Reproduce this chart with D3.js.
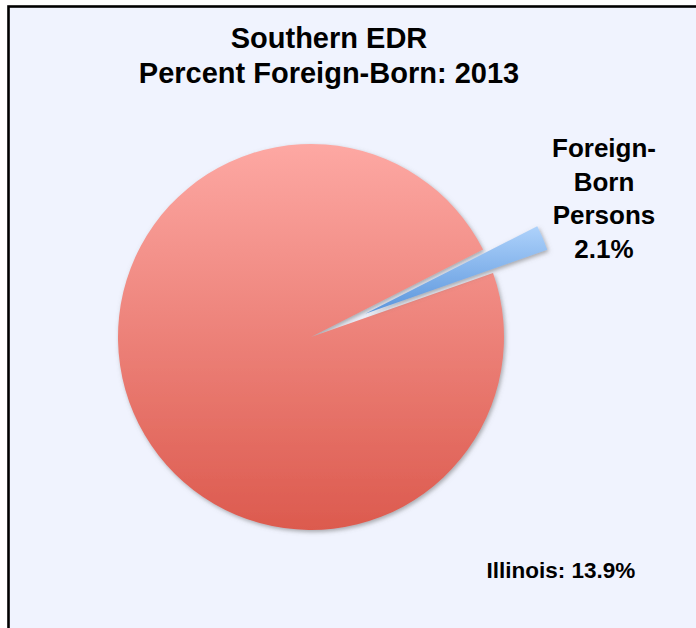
<!DOCTYPE html>
<html>
<head>
<meta charset="utf-8">
<script src="https://cdn.jsdelivr.net/npm/d3@7"></script>
<style>
  html, body { margin: 0; padding: 0; background: #fff; }
  svg { display: block; }
  text { font-family: "Liberation Sans", Arial, sans-serif; font-weight: bold; fill: #000; }
</style>
</head>
<body>
<svg id="chart" width="696" height="628"></svg>
<script>
// data
const categories = ["Native-Born Persons", "Foreign-Born Persons"];
const values = [97.9, 2.1];
const sliceLabels = ["", "Foreign-|Born|Persons|2.1%"];
const titleLines = ["Southern EDR", "Percent Foreign-Born: 2013"];
const stateName = "Illinois";
const statePct = 13.9;

const width = 696, height = 628;
const cx = 311, cy = 337, radius = 193;
const explode = 59;
const firstSliceAngle = 70.6 * Math.PI / 180;

const svg = d3.select("#chart");
const defs = svg.append("defs");

// gradients
function vGradient(id, top, bottom) {
    const g = defs.append("linearGradient")
        .attr("id", id)
        .attr("x1", 0).attr("y1", 0)
        .attr("x2", 0).attr("y2", 1);
    g.append("stop").attr("offset", "0%").attr("stop-color", top);
    g.append("stop").attr("offset", "100%").attr("stop-color", bottom);
}
vGradient("gradRed", "#fda8a3", "#dc5a4e");
vGradient("gradBlue", "#aed2fb", "#5a95dc");

const shadow = defs.append("filter")
    .attr("id", "shadow")
    .attr("x", "-20%").attr("y", "-20%")
    .attr("width", "140%").attr("height", "140%");
shadow.append("feDropShadow")
    .attr("dx", 1.5).attr("dy", 2)
    .attr("stdDeviation", 2)
    .attr("flood-color", "#6b6b6b")
    .attr("flood-opacity", 0.55);

// plot area background + border (right / bottom edges fall outside the picture)
svg.append("rect")
    .attr("x", 8.5).attr("y", 6.5)
    .attr("width", width + 20).attr("height", height + 20)
    .attr("fill", "#f0f3fe")
    .attr("stroke", "#000")
    .attr("stroke-width", 2.6);

// pie
const pie = d3.pie()
    .sort(null)
    .startAngle(firstSliceAngle)
    .endAngle(firstSliceAngle + 2 * Math.PI);

const arcs = pie(values);
const arc = d3.arc().innerRadius(0).outerRadius(radius);
const fills = ["url(#gradRed)", "url(#gradBlue)"];
const offsets = [0, explode];

const pieG = svg.append("g").attr("transform", `translate(${cx},${cy})`);

pieG.selectAll("path.slice")
    .data(arcs)
    .join("path")
    .attr("class", "slice")
    .attr("d", arc)
    .attr("fill", (d, i) => fills[i])
    .attr("filter", "url(#shadow)")
    .attr("transform", (d, i) => {
        const mid = (d.startAngle + d.endAngle) / 2;
        const dx = Math.sin(mid) * offsets[i];
        const dy = -Math.cos(mid) * offsets[i];
        return `translate(${dx},${dy})`;
    });

// title
svg.append("text")
    .attr("text-anchor", "middle")
    .style("font-size", "29px")
    .selectAll("tspan")
    .data(titleLines)
    .join("tspan")
    .attr("x", 329)
    .attr("y", (d, i) => 48 + i * 34.5)
    .text(d => d);

// slice label
svg.append("text")
    .attr("text-anchor", "middle")
    .style("font-size", "26px")
    .selectAll("tspan")
    .data(sliceLabels[1].split("|"))
    .join("tspan")
    .attr("x", 604)
    .attr("y", (d, i) => 157 + i * 33.5)
    .text(d => d);

// state comparison note
svg.append("text")
    .attr("x", 486.5)
    .attr("y", 577.5)
    .style("font-size", "22.5px")
    .text(`${stateName}: ${statePct}%`);
</script>
</body>
</html>
